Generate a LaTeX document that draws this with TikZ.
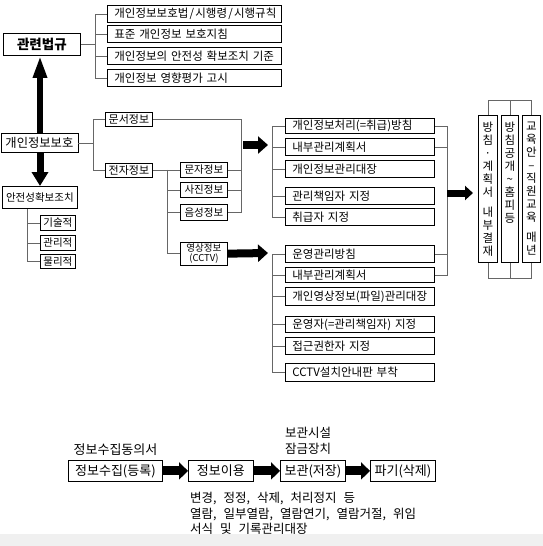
\documentclass[tikz,border=0pt]{standalone}
\usepackage{fontspec}
\setmainfont{Noto Sans CJK KR}
\usetikzlibrary{arrows.meta}
\newcommand{\kfont}[2]{\fontsize{#1}{#2}\selectfont\spaceskip=0.42em\relax}
\newcommand{\rfont}{\fontsize{12.5}{15.5}\selectfont\spaceskip=7pt\relax}
\newcommand{\wslash}{\kern1.2pt/\kern1.2pt}
\begin{document}
\begin{tikzpicture}[x=1pt,y=-1pt,
  every node/.style={font=\kfont{11.5}{13}},
  frame/.style={draw=black, line width=0.8pt, anchor=north west},
  lbox/.style={frame, align=left, inner xsep=7pt, inner ysep=0pt},
  cbox/.style={frame, align=center, inner sep=0pt},
  small/.style={font=\kfont{10.5}{11}},
  big/.style={font=\kfont{12.3}{14}},
  bigger/.style={font=\kfont{13}{14}},
  vbox/.style={frame, inner sep=0pt, minimum height=147pt},
  vtext/.style={anchor=north, align=center, inner sep=0pt, font=\kfont{11.5}{13}},
  wire/.style={draw=black!60, line width=0.8pt},
  uparrow/.style={line width=6pt, -{Triangle[length=22pt,width=13pt]}},
  downarrow/.style={line width=7pt, -{Triangle[length=14pt,width=16pt]}},
  harrow/.style={line width=8pt, -{Triangle[length=10pt,width=17pt]}},
  sarrow/.style={line width=7pt, -{Triangle[length=8pt,width=14pt]}},
  farrow/.style={line width=9pt, -{Triangle[length=9pt,width=17pt]}}
]
\useasboundingbox (0,0) rectangle (543,546);
\fill[white] (0,0) rectangle (543,546);
\fill[black!6] (0,534) rectangle (543,546);

% guide coordinates
\coordinate (lbx) at (95,0);
\coordinate (ax) at (40,0);
\coordinate (dx) at (93,0);
\coordinate (sx) at (27,0);
\coordinate (ex) at (241,0);
\coordinate (exx) at (167,0);
\coordinate (gx) at (272,0);
\coordinate (rx) at (447,0);
\coordinate (tc) at (0,100);
\coordinate (bc) at (0,278);
\coordinate (a1s) at (243,145);
\coordinate (a1e) at (268,145);
\coordinate (a2e) at (268,253);
\coordinate (a3s) at (447,193);
\coordinate (a3e) at (473,193);

% laws
\node[cbox, minimum width=77pt, minimum height=22pt, font=\fontsize{13.5}{15}\selectfont\bfseries] (law) at (3,33) {관련법규};
\node[lbox, text width=160pt, minimum height=17pt] (l1) at (107,5) {개인정보보호법\wslash 시행령\wslash 시행규칙};
\node[lbox, text width=160pt, minimum height=17pt] (l2) at (107,25) {표준 개인정보 보호지침};
\node[lbox, text width=160pt, minimum height=17pt] (l3) at (107,47) {개인정보의 안전성 확보조치 기준};
\node[lbox, text width=160pt, minimum height=17pt] (l4) at (107,69) {개인정보 영향평가 고시};

% left column
\node[cbox, big, minimum width=77pt, minimum height=19pt] (pp) at (0.5,133) {개인정보보호};
\node[cbox, small, minimum width=75pt, minimum height=22pt] (safe) at (2,186) {안전성확보조치};
\node[cbox, small, minimum width=35pt, minimum height=15pt] (s1) at (40,215) {기술적};
\node[cbox, small, minimum width=35pt, minimum height=15pt] (s2) at (40,235) {관리적};
\node[cbox, small, minimum width=35pt, minimum height=14pt] (s3) at (40,254) {물리적};

% info types
\node[cbox, font=\kfont{11}{13}, minimum width=47pt, minimum height=14pt] (doc) at (105,112) {문서정보};
\node[cbox, font=\kfont{11}{13}, minimum width=47pt, minimum height=14pt] (el) at (105,162.5) {전자정보};
\node[cbox, small, minimum width=47pt, minimum height=15pt] (t1) at (180,162) {문자정보};
\node[cbox, small, minimum width=47pt, minimum height=15pt] (t2) at (180,182) {사진정보};
\node[cbox, small, minimum width=47pt, minimum height=16pt] (t3) at (180,204) {음성정보};
\node[cbox, font=\kfont{9.5}{10.5}, minimum width=47pt, minimum height=22.5pt] (t4) at (180,242) {영상정보\\(CCTV)};

% group 1
\node[lbox, text width=135pt, minimum height=15pt] (g1) at (285,118) {개인정보처리(=취급)방침};
\node[lbox, text width=135pt, minimum height=17pt] (g2) at (285,138) {내부관리계획서};
\node[lbox, text width=135pt, minimum height=17pt] (g3) at (285,160) {개인정보관리대장};
\node[lbox, text width=135pt, minimum height=17pt] (g4) at (285,187) {관리책임자 지정};
\node[lbox, text width=135pt, minimum height=17pt] (g5) at (285,208) {취급자 지정};

% group 2
\node[lbox, text width=135pt, minimum height=17pt] (c1) at (285,245) {운영관리방침};
\node[lbox, text width=135pt, minimum height=15pt] (c2) at (285,267) {내부관리계획서};
\node[lbox, text width=135pt, minimum height=18pt] (c3) at (285,287) {개인영상정보(파일)관리대장};
\node[lbox, text width=135pt, minimum height=16pt] (c4) at (285,316) {운영자(=관리책임자) 지정};
\node[lbox, text width=135pt, minimum height=17pt] (c5) at (285,337) {접근권한자 지정};
\node[lbox, text width=135pt, minimum height=18pt] (c6) at (285,363) {CCTV설치안내판 부착};

% vertical boxes
\node[vbox, minimum width=19pt] (v1) at (478,115) {};
\node[vbox, minimum width=17pt] (v2) at (501,115) {};
\node[vbox, minimum width=18pt] (v3) at (522,115) {};
\node[vtext] (v1t) at ([yshift=-7pt]v1.north) {방\\침\\·\\계\\획\\서\\[7pt]내\\부\\결\\재};
\node[vtext] (v2t) at ([yshift=-7pt]v2.north) {방\\침\\공\\개\\\textasciitilde\\홈\\피\\등};
\node[vtext] (v3t) at ([yshift=-7pt]v3.north) {교\\육\\안\\–\\직\\원\\교\\육\\[7pt]매\\년};

% life cycle
\node[cbox, bigger, minimum width=94pt, minimum height=21pt] (b1) at (68,460) {정보수집(등록)};
\node[cbox, bigger, minimum width=65pt, minimum height=21pt] (b2) at (188,460) {정보이용};
\node[cbox, bigger, minimum width=65pt, minimum height=21pt] (b3) at (280,460) {보관(저장)};
\node[cbox, bigger, minimum width=65pt, minimum height=21pt] (b4) at (370,460) {파기(삭제)};
\node[bigger, inner sep=0pt] (consent) at (115.5,450) {정보수집동의서};
\node[font=\kfont{12.5}{16}, align=left, anchor=west, inner sep=0pt] (keep) at (285,441) {보관시설\\잠금장치};
\node[font=\rfont, align=left, anchor=north west, inner sep=0pt] (rights) at (190,492) {변경, 정정, 삭제, 처리정지 등\\열람, 일부열람, 열람연기, 열람거절, 위임\\서식 및 기록관리대장};

% wires: laws
\draw[wire] (law.east) -- (law.east -| lbx);
\draw[wire] (l1.west) -- (l1.west -| lbx) -- (l4.west -| lbx) -- (l4.west);
\draw[wire] (l2.west) -- (l2.west -| lbx);
\draw[wire] (l3.west) -- (l3.west -| lbx);

% wires: left
\draw[wire] (pp.east) -- (pp.east -| dx);
\draw[wire] (doc.west) -- (doc.west -| dx) -- (el.west -| dx) -- (el.west);
\draw[wire] (safe.south -| sx) -- (s3.west -| sx) -- (s3.west);
\draw[wire] (s1.west) -- (s1.west -| sx);
\draw[wire] (s2.west) -- (s2.west -| sx);

% wires: info types
\draw[wire] (doc.east) -- (doc.east -| ex) -- (t3.east -| ex) -- (t3.east);
\draw[wire] (t1.east) -- (t1.east -| ex);
\draw[wire] (t2.east) -- (t2.east -| ex);
\draw[wire] (el.east) -- (t1.west);
\draw[wire] (t1.west -| exx) -- (t4.west -| exx) -- (t4.west);
\draw[wire] (t2.west) -- (t2.west -| exx);
\draw[wire] (t3.west) -- (t3.west -| exx);

% wires: groups
\draw[wire] (g1.west) -- (g1.west -| gx) -- (g5.west -| gx) -- (g5.west);
\draw[wire] (g2.west) -- (g2.west -| gx);
\draw[wire] (g3.west) -- (g3.west -| gx);
\draw[wire] (g4.west) -- (g4.west -| gx);
\draw[wire] (c1.west) -- (c1.west -| gx) -- (c6.west -| gx) -- (c6.west);
\draw[wire] (c2.west) -- (c2.west -| gx);
\draw[wire] (c3.west) -- (c3.west -| gx);
\draw[wire] (c4.west) -- (c4.west -| gx);
\draw[wire] (c5.west) -- (c5.west -| gx);
\draw[wire] (g1.east) -- (g1.east -| rx) -- (c2.east -| rx) -- (c2.east);
\draw[wire] (g2.east) -- (g2.east -| rx);
\draw[wire] (c1.east) -- (c1.east -| rx);

% wires: vertical boxes
\draw[wire] (v1.north) -- (v1.north |- tc) -- (v3.north |- tc) -- (v3.north);
\draw[wire] (v2.north) -- (v2.north |- tc);
\draw[wire] (v1.south) -- (v1.south |- bc) -- (v3.south |- bc) -- (v3.south);
\draw[wire] (v2.south) -- (v2.south |- bc);

% big arrows
\draw[uparrow] (pp.north -| ax) -- (law.south -| ax);
\draw[downarrow] (pp.south -| ax) -- (safe.north -| ax);
\draw[harrow] (a1s) -- (a1e);
\draw[harrow] (t4.east) -- (a2e);
\draw[sarrow] (a3s) -- (a3e);
\draw[farrow] (b1.east) -- (b2.west);
\draw[farrow] (b2.east) -- (b3.west);
\draw[farrow] (b3.east) -- (b4.west);
\end{tikzpicture}
\end{document}
